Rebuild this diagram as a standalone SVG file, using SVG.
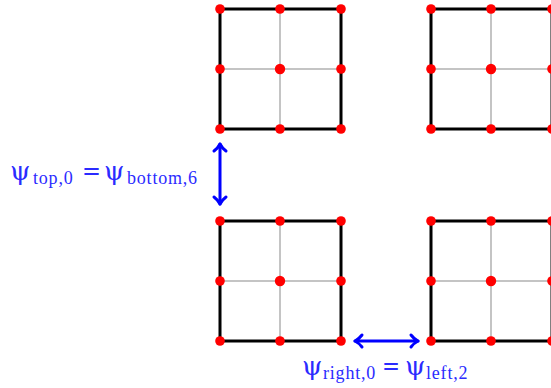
<svg xmlns="http://www.w3.org/2000/svg" width="551" height="388" viewBox="0 0 551 388">
<style>
.grid{stroke:#c4c4c4;stroke-width:2;fill:none}
.border{stroke:#000;stroke-width:3;fill:none;stroke-linejoin:miter}
.dot{fill:#ff0000}
.arr{stroke:#0000ff;stroke-width:3;fill:none;stroke-linecap:round;stroke-linejoin:round}
.lbl{font-family:"Liberation Serif","DejaVu Serif",serif;fill:#2b2bff}
.big{font-size:26px;font-family:"DejaVu Serif","Liberation Serif",serif}
.sub{font-size:18px;letter-spacing:0.8px}
</style>
<defs>
<g id="cell">
<line class="grid" x1="60" y1="0" x2="60" y2="120"/>
<line class="grid" x1="0" y1="60" x2="120" y2="60"/>
<rect class="border" x="0" y="0" width="121" height="120"/>
<circle class="dot" cx="0" cy="0" r="4.8"/>
<circle class="dot" cx="60" cy="0" r="4.8"/>
<circle class="dot" cx="121" cy="0" r="4.8"/>
<circle class="dot" cx="0" cy="60" r="4.8"/>
<circle class="dot" cx="60" cy="60" r="5.2"/>
<circle class="dot" cx="121" cy="60" r="4.8"/>
<circle class="dot" cx="0" cy="120" r="4.8"/>
<circle class="dot" cx="60" cy="120" r="4.8"/>
<circle class="dot" cx="121" cy="120" r="4.8"/>
</g>
</defs>
<g id="cell-top-left"><use href="#cell" x="220" y="9"/></g>
<g id="cell-top-right"><use href="#cell" x="431" y="9"/></g>
<g id="cell-bottom-left"><use href="#cell" x="220" y="221"/></g>
<g id="cell-bottom-right"><use href="#cell" x="431" y="221"/></g>
<g id="connectors">
<line class="arr" x1="220" y1="144" x2="220" y2="204"/>
<path class="arr" d="M214 151 Q218 148 220 144 Q222 148 226 151"/>
<path class="arr" d="M214 197 Q218 200 220 204 Q222 200 226 197"/>
<line class="arr" x1="355" y1="341" x2="418" y2="341"/>
<path class="arr" d="M362 335 Q359 339 355 341 Q359 343 362 347"/>
<path class="arr" d="M411 335 Q414 339 418 341 Q414 343 411 347"/>
</g>
<g id="label-vertical" class="lbl">
<text class="big" x="10" y="180">ψ</text>
<text class="sub" x="33" y="184">top,0</text>
<text class="big" x="82" y="180" textLength="19" lengthAdjust="spacingAndGlyphs">=</text>
<text class="big" x="104" y="180">ψ</text>
<text class="sub" x="127" y="184">bottom,6</text>
</g>
<g id="label-horizontal" class="lbl">
<text class="big" x="302" y="375">ψ</text>
<text class="sub" x="323" y="379">right,0</text>
<text class="big" x="382" y="375" textLength="18" lengthAdjust="spacingAndGlyphs">=</text>
<text class="big" x="405" y="375">ψ</text>
<text class="sub" x="426" y="379">left,2</text>
</g>
</svg>
